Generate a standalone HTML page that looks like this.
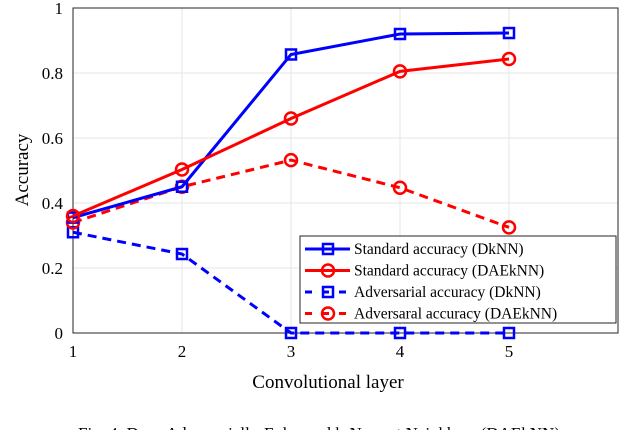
<!DOCTYPE html>
<html><head><meta charset="utf-8"><style>
body{margin:0;background:#fff;width:638px;height:430px;overflow:hidden}
svg{font-family:"Liberation Serif",serif}
</style></head><body>
<svg id="c" width="638" height="430">
<text x="319" y="439" font-size="17" text-anchor="middle" fill="#000">Fig. 4: Deep Adversarially-Enhanced k-Nearest Neighbors (DAEkNN)</text>
</svg>
<script>
const layers=[1,2,3,4,5];
const stdDk=[0.355,0.45,0.857,0.92,0.923];
const stdDae=[0.36,0.503,0.66,0.805,0.843];
const advDk=[0.31,0.243,0,0,0];
const advDae=[0.34,0.45,0.532,0.447,0.325];
const xTicks=[1,2,3,4,5];
const yTicks=[0,0.2,0.4,0.6,0.8,1];
const yTickLabels=["0","0.2","0.4","0.6","0.8","1"];
const NS="http://www.w3.org/2000/svg";
const svg=document.getElementById('c');
const X=v=>73+(v-1)*109, Y=v=>333-v*325;
function el(t,a,p){const e=document.createElementNS(NS,t);for(const k in a)e.setAttribute(k,a[k]);(p||svg).appendChild(e);return e;}
xTicks.forEach(t=>{const g=el('line',{x1:X(t),x2:X(t),y1:8,y2:333,stroke:'#e6e6e6'});

});
yTicks.forEach(t=>{const g=el('line',{x1:73,x2:618,y1:Y(t),y2:Y(t),stroke:'#e6e6e6'});

});
const box=el('rect',{x:73,y:8,width:545,height:325,fill:'none',stroke:'#262626','stroke-width':1});


xTicks.forEach(t=>{const l=el('text',{x:X(t),y:357,'font-size':17,'text-anchor':'middle'});l.textContent=t;

});
yTicks.forEach((t,i)=>{const l=el('text',{x:63,y:Y(t)+6,'font-size':17,'text-anchor':'end'});l.textContent=yTickLabels[i];

});
const xl=el('text',{x:328,y:388,'font-size':19,'text-anchor':'middle'});xl.textContent='Convolutional layer';


const yl=el('text',{x:0,y:0,'font-size':19,'text-anchor':'middle',transform:'translate(28,170) rotate(-90)'});yl.textContent='Accuracy';


function marker(g,x,y,col,sq){
 if(sq){el('rect',{x:x-5,y:y-5,width:10,height:10,fill:'none',stroke:col,'stroke-width':2.5},g);}
 else{el('circle',{cx:x,cy:y,r:6,fill:'none',stroke:col,'stroke-width':2.5},g);}
}
function series(vals,col,dash,sq,name){
 const g=el('g',{});
 
 
 el('polyline',{points:vals.map((v,i)=>X(layers[i])+','+Y(v)).join(' '),fill:'none',stroke:col,'stroke-width':3,'stroke-dasharray':dash?'9,6':'none'},g);
 vals.forEach((v,i)=>marker(g,X(layers[i]),Y(v),col,sq));
}
series(advDk,'#0000ff',true,true,'series-adversarial-dknn');
series(advDae,'#ff0000',true,false,'series-adversarial-daeknn');
series(stdDk,'#0000ff',false,true,'series-standard-dknn');
series(stdDae,'#ff0000',false,false,'series-standard-daeknn');
const lg=el('g',{});


el('rect',{x:300,y:236,width:316,height:87,fill:'#fff',stroke:'#262626'},lg);
const items=[['Standard accuracy (DkNN)','#0000ff',false,true],['Standard accuracy (DAEkNN)','#ff0000',false,false],['Adversarial accuracy (DkNN)','#0000ff',true,true],['Adversaral accuracy (DAEkNN)','#ff0000',true,false]];
items.forEach((it,i)=>{const y=249+i*21.5;const g=el('g',{},lg);
 
 
 el('line',{x1:305,x2:350,y1:y,y2:y,stroke:it[1],'stroke-width':3,'stroke-dasharray':it[2]?'7,10':'none'},g);
 marker(g,328,y,it[1],it[3]);
 const t=el('text',{x:354,y:y+5,'font-size':15.5},g);t.textContent=it[0];});
</script>
</body></html>
